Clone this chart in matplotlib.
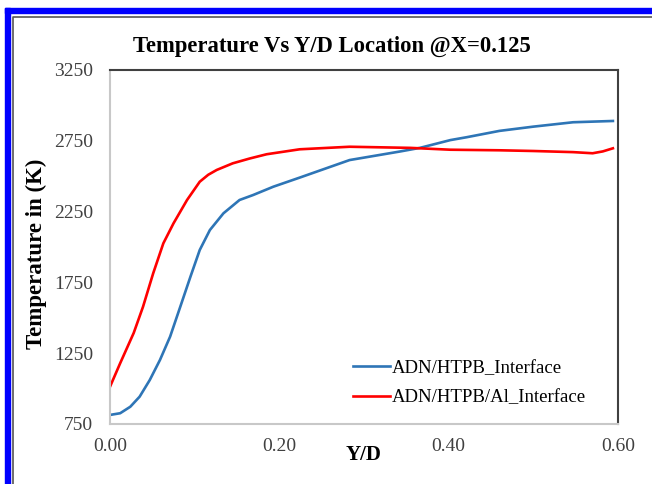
import numpy as np
import matplotlib
matplotlib.use('Agg')
import matplotlib.pyplot as plt
from matplotlib.patches import Rectangle
from matplotlib.lines import Line2D

plt.rcParams['font.family'] = ['Liberation Serif', 'DejaVu Serif']

# ADN/HTPB interface
yd_htpb = [0.0, 0.012, 0.024, 0.035, 0.047, 0.059, 0.071, 0.083, 0.095, 0.106,
           0.118, 0.134, 0.153, 0.169, 0.193, 0.224, 0.283, 0.343, 0.366, 0.402,
           0.421, 0.46, 0.5, 0.547, 0.594]
t_htpb = [814, 826, 872, 943, 1061, 1202, 1367, 1578, 1790, 1979,
          2120, 2238, 2332, 2367, 2426, 2490, 2614, 2675, 2700, 2755,
          2775, 2820, 2850, 2881, 2890]

# ADN/HTPB/Al interface
yd_al = [0.0, 0.012, 0.028, 0.039, 0.051, 0.063, 0.075, 0.091, 0.106, 0.116,
         0.126, 0.145, 0.165, 0.185, 0.224, 0.283, 0.355, 0.402, 0.46, 0.5,
         0.547, 0.57, 0.582, 0.594]
t_al = [1013, 1179, 1393, 1578, 1814, 2026, 2167, 2332, 2461, 2510,
        2544, 2591, 2625, 2655, 2690, 2708, 2700, 2687, 2683, 2678,
        2670, 2662, 2675, 2697]

x_ticks = [0.0, 0.2, 0.4, 0.6]
y_ticks = [750, 1250, 1750, 2250, 2750, 3250]

fig = plt.figure(figsize=(6.52, 4.84), dpi=100)
ax = fig.add_axes([110 / 652, 1 - 424 / 484, 508 / 652, 354 / 484])

ax.plot(yd_htpb, t_htpb, color='#2e75b6', lw=1.9, label='ADN/HTPB_Interface')
ax.plot(yd_al, t_al, color='#ff0000', lw=1.9, label='ADN/HTPB/Al_Interface')

ax.set_xlim(0, 0.6)
ax.set_ylim(750, 3250)
ax.set_xticks(x_ticks)
ax.set_xticklabels([f'{v:.2f}' for v in x_ticks])
ax.set_yticks(y_ticks)
ax.tick_params(length=0, labelsize=14, colors='#404040')
ax.tick_params(axis='y', pad=12)
ax.tick_params(axis='x', pad=10)

for s in ['top', 'right']:
    ax.spines[s].set_color('#404040')
    ax.spines[s].set_linewidth(1.5)
for s in ['left', 'bottom']:
    ax.spines[s].set_color('#c8c8c8')
    ax.spines[s].set_linewidth(1.5)

ax.set_xlabel('Y/D', fontsize=15, fontweight='bold')
ax.xaxis.set_label_coords(0.5, -0.058)
ax.set_ylabel('Temperature in (K)', fontsize=16.5, fontweight='bold')
ax.yaxis.set_label_coords(-0.124, 0.48)
fig.text(332 / 652, 1 - 46 / 484, 'Temperature Vs Y/D Location @X=0.125',
         fontsize=16.3, fontweight='bold', ha='center', va='center')

ax.legend(loc='upper left', bbox_to_anchor=(0.478, 0.182), frameon=False,
          fontsize=13.5, handlelength=2.0, handletextpad=0.1,
          labelspacing=0.66, borderpad=0, borderaxespad=0)

# outer frame of the picture
fig.add_artist(Rectangle((5 / 652, 1 - 13 / 484), 647 / 652, 5 / 484,
                         transform=fig.transFigure, color='#0000ff'))
fig.add_artist(Rectangle((5 / 652, 0), 5 / 652, 1 - 8 / 484,
                         transform=fig.transFigure, color='#0000ff'))
fig.add_artist(Line2D([12.5 / 652, 12.5 / 652, 1], [0, 1 - 17 / 484, 1 - 17 / 484],
                      transform=fig.transFigure, color='#555555', lw=1.2))

fig.savefig('out.png', dpi=100)
